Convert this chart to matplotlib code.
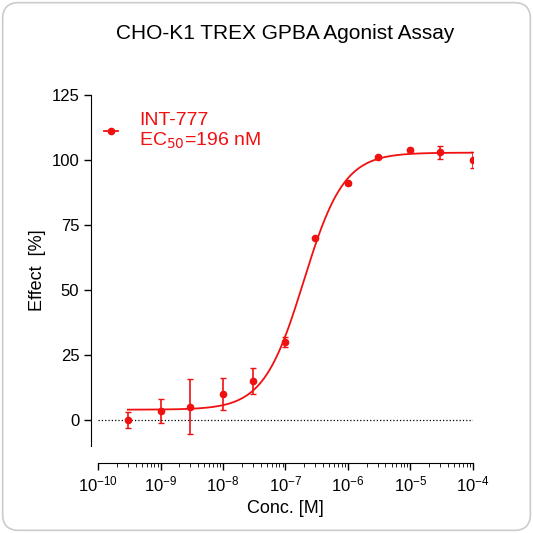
import numpy as np
import matplotlib.pyplot as plt
from matplotlib.patches import FancyBboxPatch
from matplotlib.ticker import LogLocator, NullFormatter

plt.rcParams['font.family'] = ['Liberation Sans', 'DejaVu Sans']

conc = [3e-10, 1e-9, 3e-9, 1e-8, 3e-8, 1e-7, 3e-7, 1e-6, 3e-6, 1e-5, 3e-5, 1e-4]
effect = [0.0, 3.5, 5.2, 10.0, 15.0, 30.0, 70.0, 91.0, 101.0, 104.0, 103.0, 100.0]
err = [3.0, 4.5, 10.5, 6.0, 5.0, 2.0, 0.5, 0.5, 0.5, 0.5, 2.5, 3.0]
# four-parameter logistic fit
bottom, top, ec50, hill = 4.0, 102.8, 196e-9, 1.35

red = '#f01010'
fig = plt.figure(figsize=(5.33, 5.33), dpi=100)
fig.patches.append(FancyBboxPatch((0.005, 0.005), 0.99, 0.99, boxstyle='round,pad=0,rounding_size=0.03',
                                  transform=fig.transFigure, facecolor='white', edgecolor='#cccccc',
                                  lw=1.2, zorder=-10))
ax = fig.add_axes([0.184, 0.163, 0.703, 0.659])
ax.set_facecolor('none')

xs = np.logspace(np.log10(3e-10), -4, 400)
ys = bottom + (top - bottom) / (1 + (ec50 / xs) ** hill)
ax.plot(xs, ys, color=red, lw=1.3)
ax.errorbar(conc, effect, yerr=err, fmt='o', color=red, ms=4.5, capsize=2.5, elinewidth=1.2)
ax.plot([1e-10, 1e-4], [0, 0], ':', color='black', lw=0.9)

ax.set_xscale('log')
ax.set_xlim(1e-10, 1e-4)
ax.set_ylim(-10, 125)
ax.set_yticks([0, 25, 50, 75, 100, 125])
ax.xaxis.set_major_locator(LogLocator(base=10, numticks=10))
ax.xaxis.set_minor_locator(LogLocator(base=10, subs=np.arange(2, 10), numticks=100))
ax.xaxis.set_minor_formatter(NullFormatter())
for s in ['top', 'right']:
    ax.spines[s].set_visible(False)
ax.spines['left'].set_position(('outward', 5))
ax.spines['bottom'].set_position(('outward', 12))
ax.tick_params(labelsize=12, width=1, length=5)
ax.tick_params(which='minor', length=3)
ax.set_xlabel('Conc. [M]', fontsize=13)
ax.set_ylabel('Effect  [%]', fontsize=13)

ax.plot([1.6e-10], [111], 'o', color=red, ms=4.5)
ax.plot([1.25e-10, 2.1e-10], [111, 111], color=red, lw=1.3)
ax.text(4.5e-10, 111, 'INT-777\nEC$_{50}$=196 nM', color=red, fontsize=14, va='center', linespacing=1.1)

fig.text(0.535, 0.938, 'CHO-K1 TREX GPBA Agonist Assay', ha='center', va='center', fontsize=15)
fig.savefig('out.png', dpi=100)
